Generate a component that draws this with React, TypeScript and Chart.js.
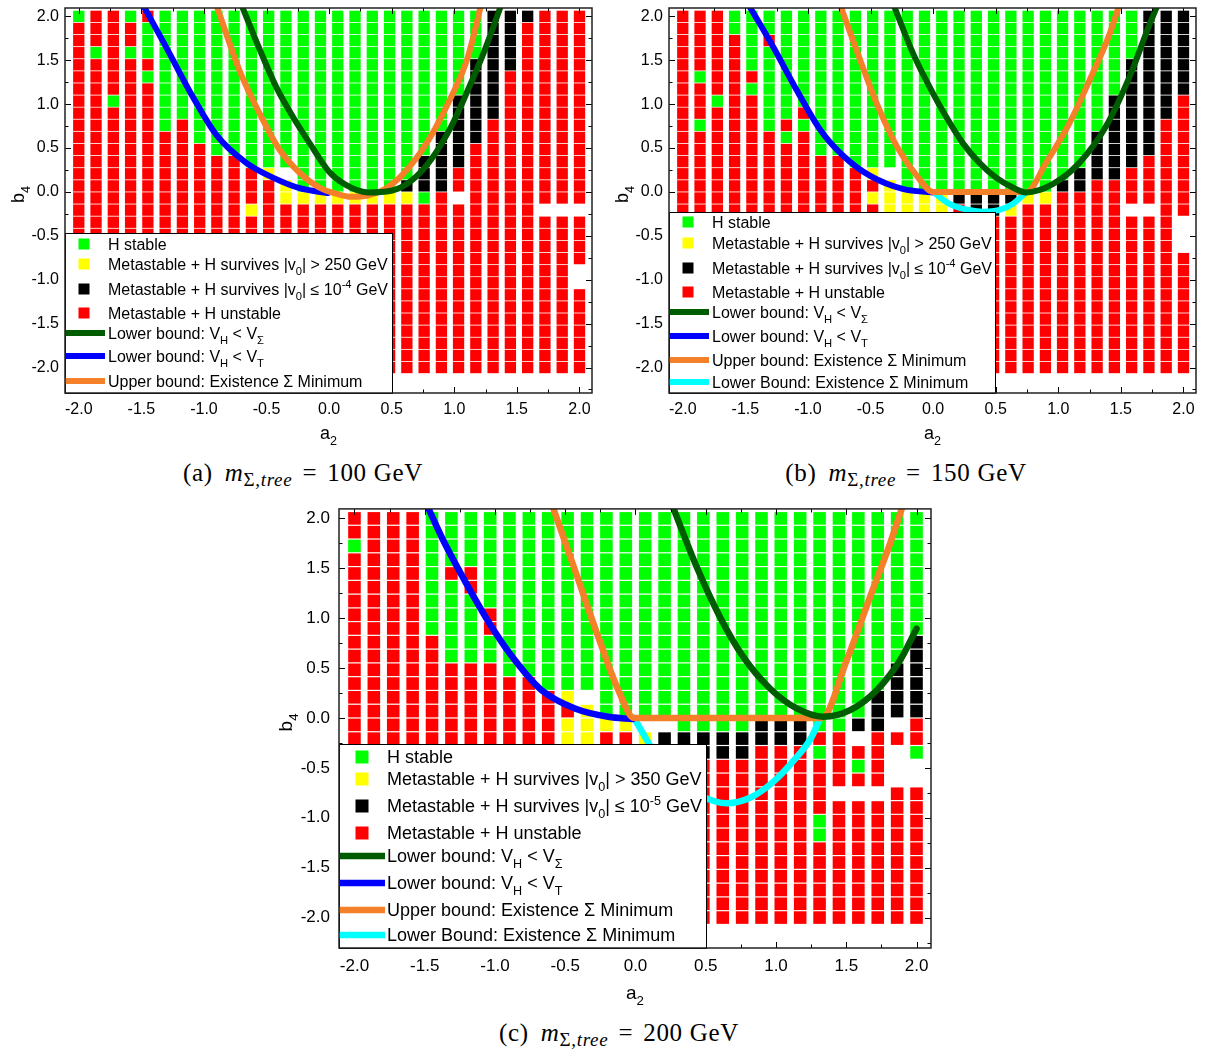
import React, { useEffect, useRef } from "react";
import { Chart, registerables } from "chart.js";
Chart.register(...registerables);

type Seg = { t: string; s?: "sub" | "sup" };
type Pt = [number, number];

// ---------------- data ----------------
// grid of a2 values (columns, left -> right)
const A2_GRID = [-2.0, -1.862, -1.724, -1.586, -1.448, -1.31, -1.172, -1.034, -0.897, -0.759, -0.621, -0.483, -0.345, -0.207, -0.069,
  0.069, 0.207, 0.345, 0.483, 0.621, 0.759, 0.897, 1.034, 1.172, 1.31, 1.448, 1.586, 1.724, 1.862, 2.0];
// grid of b4 values (rows, top -> bottom)
const B4_GRID = [2.0, 1.862, 1.724, 1.586, 1.448, 1.31, 1.172, 1.034, 0.897, 0.759, 0.621, 0.483, 0.345, 0.207, 0.069,
  -0.069, -0.207, -0.345, -0.483, -0.621, -0.759, -0.897, -1.034, -1.172, -1.31, -1.448, -1.586, -1.724, -1.862, -2.0];

// category codes: G = H stable, Y = metastable survives (large v0), K = metastable survives (small v0), R = unstable, . = no point
const CATEGORY_CODES = ["G", "Y", "K", "R"];
const CATEGORY_COLORS = ["#00ff00", "#ffff00", "#000000", "#ff0000"];

// each entry = one a2 column, runs of categories from b4 = 2 (top) down to b4 = -2
const CELLS_A = [
  "G1R29", "R3G1R26", "R7G1R22", "G1R2G1R26", "R1G3R1G1R24", "G10R20", "G9R21", "G11R19", "G12R18", "G12R18",
  "G13R3Y1R13", "G13Y1R16", "G13.1Y2R14", "G15Y1R14", "G15Y1R14", "G15Y1R14", "G15Y1R14", "G15Y1R14", "G15Y1R14", "G14K1Y1R14",
  "G12K3G1R14", "G10K5R15", "G7K6R2.1R14", "G4K7R19", "K9R21", "K5R25", "K1R29", "R16.1R13", "R16.1R13", "R16.1R4.2R7",
];
const CELLS_B = [
  "R30", "R5G1R3G1R20", "R7G1R22", "G2R28", "G5R1G1R23", "G2R1G7R20", "G9R1G1R19", "G8R1G1R20", "G12R18", "G12R18",
  "G13R17", "G13Y1R1Y1R14", "G13.1Y3R13", "G15Y2R13", "G15Y2R13", "G15Y2R13", "G15K1R14", "G15K2R13", "G15K2R13", "G15K1Y1R13",
  "G15Y1R14", "G15Y1R14", "G14K1R15", "G13K2R15", "G10K4R16", "G7K7R16", "G4K9R3.1R13", "K12R4.1R13", "K9R21", "K7R10.3R10",
];
const CELLS_C = [
  "R2G1R27", "R30", "R30", "R30", "G9R21", "G4R1G6R19", "G4R2G5R19", "G7R2G2R19", "G12R18", "G12R18",
  "G13R17", "G13Y1R1Y2R13", "G13.1Y3R13", "G15Y1R14", "G15Y1R14", "G15.1Y1R13", "G15.1K1R13", "G16K1R13", "G16K2R12", "G16K2R12",
  "G16K2R12", "G15K2R13", "G15K2R13", "G15K2R13", "G16R1G1R4G2R6", "G16R4.1R9", "G15K1.1R1G1R1.1R9", "G13K3R4.1R9", "G11K4.1R1.3R10", "G9K6R2G1.2R10",
];

// curves [a2, b4]
const CURVE_A_SIGMA: Pt[] = [[-0.70, 2.13], [-0.555, 1.624], [-0.422, 1.193], [-0.29, 0.856], [-0.156, 0.556], [0.0, 0.23], [0.123, 0.088],
  [0.309, -0.006], [0.496, 0.013], [0.655, 0.126], [0.815, 0.37], [0.975, 0.744], [1.107, 1.155], [1.24, 1.604], [1.375, 2.13]];
const CURVE_A_T: Pt[] = [[-1.487, 2.13], [-1.30, 1.643], [-1.088, 1.081], [-0.901, 0.65], [-0.662, 0.331], [-0.449, 0.163], [-0.236, 0.043], [-0.01, -0.013]];
const CURVE_A_UPPER: Pt[] = [[-0.901, 2.13], [-0.715, 1.38], [-0.555, 0.893], [-0.396, 0.481], [-0.236, 0.219], [-0.077, 0.05], [0.07, -0.025],
  [0.176, -0.055], [0.309, -0.04], [0.442, 0.031], [0.575, 0.181], [0.708, 0.406], [0.841, 0.706], [0.975, 1.081], [1.107, 1.53], [1.214, 2.13]];

const CURVE_B_SIGMA: Pt[] = [[-0.316, 2.13], [-0.157, 1.567], [0.0, 1.12], [0.104, 0.856], [0.237, 0.556], [0.37, 0.331], [0.503, 0.163], [0.636, 0.05],
  [0.743, -0.006], [0.955, 0.088], [1.168, 0.331], [1.38, 0.744], [1.567, 1.305], [1.727, 1.9], [1.793, 2.13]];
const CURVE_B_T: Pt[] = [[-1.474, 2.13], [-1.274, 1.643], [-1.088, 1.155], [-0.901, 0.706], [-0.715, 0.407], [-0.502, 0.182], [-0.237, 0.031], [-0.011, -0.005]];
const CURVE_B_UPPER: Pt[] = [[-0.742, 2.13], [-0.609, 1.604], [-0.45, 1.006], [-0.29, 0.519], [-0.13, 0.182], [0.0, 0.0], [0.37, 0.0], [0.745, 0.0],
  [0.902, 0.331], [1.088, 0.781], [1.248, 1.267], [1.408, 1.792], [1.487, 2.13]];
const CURVE_B_LOWER: Pt[] = [[0.0, 0.0], [0.13, -0.137], [0.264, -0.2], [0.396, -0.225], [0.53, -0.205], [0.636, -0.137], [0.745, 0.0]];

const CURVE_C_SIGMA: Pt[] = [[0.258, 2.145], [0.436, 1.512], [0.601, 1.012], [0.767, 0.612], [0.957, 0.295], [1.147, 0.095], [1.337, 0.012],
  [1.527, 0.078], [1.717, 0.278], [1.883, 0.578], [2.0, 0.895]];
const CURVE_C_T: Pt[] = [[-1.49, 2.15], [-1.356, 1.745], [-1.19, 1.312], [-1.023, 0.912], [-0.858, 0.578], [-0.668, 0.278], [-0.431, 0.095], [-0.194, 0.012], [-0.02, -0.01]];
const CURVE_C_UPPER: Pt[] = [[-0.596, 2.145], [-0.43, 1.478], [-0.265, 0.812], [-0.122, 0.278], [-0.01, 0.0], [0.66, 0.0], [1.325, 0.0],
  [1.503, 0.578], [1.669, 1.212], [1.811, 1.745], [1.906, 2.145]];
const CURVE_C_LOWER: Pt[] = [[-0.01, 0.0], [0.068, -0.19], [0.14, -0.36], [0.3, -0.62], [0.459, -0.775], [0.649, -0.855], [0.815, -0.8],
  [0.98, -0.64], [1.13, -0.42], [1.25, -0.2], [1.313, 0.0]];

const X_TICKS = [-2, -1.5, -1, -0.5, 0, 0.5, 1, 1.5, 2];
const X_MINOR = [-1.75, -1.25, -0.75, -0.25, 0.25, 0.75, 1.25, 1.75];
const Y_TICKS = [-2, -1.5, -1, -0.5, 0, 0.5, 1, 1.5, 2];
const Y_MINOR = [-2.25, -1.75, -1.25, -0.75, -0.25, 0.25, 0.75, 1.25, 1.75];

const LEG_STABLE: Seg[] = [{ t: "H stable" }];
const LEG_META_250: Seg[] = [{ t: "Metastable + H survives |v" }, { t: "0", s: "sub" }, { t: "| > 250 GeV" }];
const LEG_META_350: Seg[] = [{ t: "Metastable + H survives |v" }, { t: "0", s: "sub" }, { t: "| > 350 GeV" }];
const LEG_META_E4: Seg[] = [{ t: "Metastable + H survives |v" }, { t: "0", s: "sub" }, { t: "| \u2264 10" }, { t: "-4", s: "sup" }, { t: " GeV" }];
const LEG_META_E5: Seg[] = [{ t: "Metastable + H survives |v" }, { t: "0", s: "sub" }, { t: "| \u2264 10" }, { t: "-5", s: "sup" }, { t: " GeV" }];
const LEG_UNSTABLE: Seg[] = [{ t: "Metastable + H unstable" }];
const LEG_LOWER_SIGMA: Seg[] = [{ t: "Lower bound: V" }, { t: "H", s: "sub" }, { t: " < V" }, { t: "\u03A3", s: "sub" }];
const LEG_LOWER_T: Seg[] = [{ t: "Lower bound: V" }, { t: "H", s: "sub" }, { t: " < V" }, { t: "T", s: "sub" }];
const LEG_UPPER: Seg[] = [{ t: "Upper bound: Existence \u03A3 Minimum" }];
const LEG_LOWER_EXIST: Seg[] = [{ t: "Lower Bound: Existence \u03A3 Minimum" }];

const LEGEND_A = [LEG_STABLE, LEG_META_250, LEG_META_E4, LEG_UNSTABLE, LEG_LOWER_SIGMA, LEG_LOWER_T, LEG_UPPER];
const LEGEND_B = [LEG_STABLE, LEG_META_250, LEG_META_E4, LEG_UNSTABLE, LEG_LOWER_SIGMA, LEG_LOWER_T, LEG_UPPER, LEG_LOWER_EXIST];
const LEGEND_C = [LEG_STABLE, LEG_META_350, LEG_META_E5, LEG_UNSTABLE, LEG_LOWER_SIGMA, LEG_LOWER_T, LEG_UPPER, LEG_LOWER_EXIST];

const CAPTION_LETTERS = ["a", "b", "c"];
const CAPTION_MASSES = ["100", "150", "200"];

const X_TITLE: Seg[] = [{ t: "a" }, { t: "2", s: "sub" }];
const Y_TITLE: Seg[] = [{ t: "b" }, { t: "4", s: "sub" }];

// ---------------- styling ----------------
const FONT = "'Liberation Sans', Arial, Helvetica, sans-serif";
const DARK_GREEN = "#005c00";
const BLUE = "#0000ff";
const ORANGE = "#f5802a";
const CYAN = "#00ffff";

function decodeColumn(rle: string): string[] {
  const out: string[] = [];
  const re = /([GYKR.])(\d+)/g;
  let m: RegExpExecArray | null;
  while ((m = re.exec(rle))) for (let k = 0; k < +m[2]; k++) out.push(m[1]);
  return out;
}

function drawRich(ctx: CanvasRenderingContext2D, segs: Seg[], x: number, y: number, size: number, align: "left" | "center") {
  const widths = segs.map((sg) => {
    ctx.font = `${sg.s ? size * 0.7 : size}px ${FONT}`;
    return ctx.measureText(sg.t).width;
  });
  const total = widths.reduce((a, b) => a + b, 0);
  let cx = align === "center" ? x - total / 2 : x;
  ctx.textAlign = "left";
  ctx.textBaseline = "alphabetic";
  ctx.fillStyle = "#000";
  const base = y + size * 0.36;
  segs.forEach((sg, i) => {
    ctx.font = `${sg.s ? size * 0.7 : size}px ${FONT}`;
    const dy = sg.s === "sub" ? size * 0.3 : sg.s === "sup" ? -size * 0.42 : 0;
    ctx.fillText(sg.t, cx, base + dy);
    cx += widths[i];
  });
}

type Curve = { pts: Pt[]; color: string; order: number };
type PanelCfg = {
  left: number; top: number; width: number; height: number;
  yAxisW: number; padTop: number; padRight: number; xAxisH: number;
  xMin: number; xMax: number; yMin: number; yMax: number;
  pointR: number; lineW: number;
  tickFont: number; xTickPad: number; yTickPad: number;
  titleFont: number; xTitleOff: number; yTitleX: number;
  cells: string[]; curves: Curve[]; legendLabels: Seg[][];
  legend: { w: number; h: number; rows: number[]; markerX: number; textX: number; lineLen: number; sq: number; font: number };
};

const PANEL_A: PanelCfg = {
  left: 0, top: 0, width: 600, height: 455,
  yAxisW: 65, padTop: 3, padRight: 7, xAxisH: 62,
  xMin: -2.11, xMax: 2.1, yMin: -2.29, yMax: 2.095,
  pointR: 8.0, lineW: 6,
  tickFont: 16, xTickPad: 7, yTickPad: 6,
  titleFont: 18, xTitleOff: 40, yTitleX: 18,
  cells: CELLS_A,
  curves: [
    { pts: CURVE_A_SIGMA, color: DARK_GREEN, order: 1 },
    { pts: CURVE_A_T, color: BLUE, order: 3 },
    { pts: CURVE_A_UPPER, color: ORANGE, order: 2 },
  ],
  legendLabels: LEGEND_A,
  legend: { w: 327, h: 160, rows: [11, 31, 56, 80, 100, 123, 148], markerX: 19, textX: 43, lineLen: 40, sq: 11, font: 16 },
};

const PANEL_B: PanelCfg = {
  ...PANEL_A,
  left: 604,
  cells: CELLS_B,
  curves: [
    { pts: CURVE_B_SIGMA, color: DARK_GREEN, order: 1 },
    { pts: CURVE_B_T, color: BLUE, order: 3 },
    { pts: CURVE_B_UPPER, color: ORANGE, order: 2 },
    { pts: CURVE_B_LOWER, color: CYAN, order: 4 },
  ],
  legendLabels: LEGEND_B,
  legend: { w: 326, h: 181, rows: [10, 31, 56, 80, 100, 124, 148, 170], markerX: 19, textX: 43, lineLen: 40, sq: 11, font: 16 },
};

const PANEL_C: PanelCfg = {
  left: 260, top: 500, width: 680, height: 510,
  yAxisW: 79, padTop: 8, padRight: 9, xAxisH: 62,
  xMin: -2.11, xMax: 2.103, yMin: -2.305, yMax: 2.095,
  pointR: 8.9, lineW: 6.5,
  tickFont: 17, xTickPad: 8, yTickPad: 9,
  titleFont: 19, xTitleOff: 44, yTitleX: 25,
  cells: CELLS_C,
  curves: [
    { pts: CURVE_C_SIGMA, color: DARK_GREEN, order: 1 },
    { pts: CURVE_C_T, color: BLUE, order: 3 },
    { pts: CURVE_C_UPPER, color: ORANGE, order: 2 },
    { pts: CURVE_C_LOWER, color: CYAN, order: 4 },
  ],
  legendLabels: LEGEND_C,
  legend: { w: 367, h: 204, rows: [13, 35, 62, 89, 112, 139, 166, 191], markerX: 23, textX: 48, lineLen: 46, sq: 13, font: 18 },
};

function makeDecor(cfg: PanelCfg) {
  return {
    id: "decor",
    afterDraw(chart: any) {
      const { ctx, chartArea: ca, scales } = chart;
      const xs = scales.x, ys = scales.y;
      ctx.save();
      // inward ticks on all four sides
      ctx.strokeStyle = "#000";
      ctx.lineWidth = 1;
      const major = 6, minor = 3.5;
      ctx.beginPath();
      const xt = (vals: number[], len: number) => vals.forEach((v) => {
        const p = Math.round(xs.getPixelForValue(v)) + 0.5;
        ctx.moveTo(p, ca.bottom); ctx.lineTo(p, ca.bottom - len);
        ctx.moveTo(p, ca.top); ctx.lineTo(p, ca.top + len);
      });
      const yt = (vals: number[], len: number) => vals.forEach((v) => {
        const p = Math.round(ys.getPixelForValue(v)) + 0.5;
        ctx.moveTo(ca.left, p); ctx.lineTo(ca.left + len, p);
        ctx.moveTo(ca.right, p); ctx.lineTo(ca.right - len, p);
      });
      xt(X_TICKS, major); xt(X_MINOR, minor); yt(Y_TICKS, major); yt(Y_MINOR, minor);
      ctx.stroke();

      // legend box
      const L = cfg.legend;
      const lx = ca.left, ly = ca.bottom - L.h;
      ctx.fillStyle = "#fff";
      ctx.fillRect(lx, ly, L.w, L.h);
      ctx.strokeStyle = "#000";
      ctx.lineWidth = 1;
      ctx.strokeRect(lx + 0.5, ly + 0.5, L.w, L.h);
      cfg.legendLabels.forEach((segs, i) => {
        const cy = ly + L.rows[i];
        if (i < 4) {
          ctx.fillStyle = CATEGORY_COLORS[i];
          ctx.fillRect(lx + L.markerX - L.sq / 2, cy - L.sq / 2, L.sq, L.sq);
        } else {
          const c = cfg.curves[i - 4];
          ctx.strokeStyle = c.color;
          ctx.lineWidth = cfg.lineW;
          ctx.lineCap = "butt";
          ctx.beginPath();
          ctx.moveTo(lx, cy);
          ctx.lineTo(lx + L.lineLen, cy);
          ctx.stroke();
        }
        drawRich(ctx, segs, lx + L.textX, cy, L.font, "left");
      });

      // frame
      ctx.strokeStyle = "#222";
      ctx.lineWidth = 1.5;
      ctx.strokeRect(ca.left, ca.top, ca.right - ca.left, ca.bottom - ca.top);

      // axis titles
      drawRich(ctx, X_TITLE, (ca.left + ca.right) / 2, ca.bottom + cfg.xTitleOff, cfg.titleFont, "center");
      ctx.translate(cfg.yTitleX, (ca.top + ca.bottom) / 2 - 6);
      ctx.rotate(-Math.PI / 2);
      drawRich(ctx, Y_TITLE, 0, 0, cfg.titleFont, "center");
      ctx.restore();
    },
  };
}

function buildConfig(cfg: PanelCfg): any {
  const cellSets = CATEGORY_CODES.map((code, ci) => {
    const data: { x: number; y: number }[] = [];
    cfg.cells.forEach((col, i) => {
      decodeColumn(col).forEach((c, j) => {
        if (c === code) data.push({ x: A2_GRID[i], y: B4_GRID[j] });
      });
    });
    return {
      label: code,
      data,
      showLine: false,
      pointStyle: "rect",
      pointRadius: cfg.pointR,
      pointHoverRadius: cfg.pointR,
      pointHitRadius: 0,
      pointBorderWidth: 0,
      borderWidth: 0,
      backgroundColor: CATEGORY_COLORS[ci],
      pointBackgroundColor: CATEGORY_COLORS[ci],
      order: 10,
    };
  });
  const curveSets = cfg.curves.map((c) => ({
    data: c.pts.map(([x, y]) => ({ x, y })),
    showLine: true,
    borderColor: c.color,
    backgroundColor: c.color,
    borderWidth: cfg.lineW,
    pointRadius: 0,
    pointHoverRadius: 0,
    pointHitRadius: 0,
    cubicInterpolationMode: "monotone",
    borderCapStyle: "round",
    borderJoinStyle: "round",
    clip: 0,
    order: c.order,
  }));
  const tickFont = { family: FONT, size: cfg.tickFont };
  return {
    type: "scatter",
    data: { datasets: [...curveSets, ...cellSets] },
    options: {
      animation: false,
      responsive: false,
      devicePixelRatio: 1,
      events: [],
      layout: { padding: { left: 0, top: cfg.padTop, right: cfg.padRight, bottom: 0 } },
      plugins: { legend: { display: false }, tooltip: { enabled: false } },
      scales: {
        x: {
          type: "linear",
          min: cfg.xMin,
          max: cfg.xMax,
          afterBuildTicks: (s: any) => { s.ticks = X_TICKS.map((v) => ({ value: v })); },
          afterFit: (s: any) => { s.height = cfg.xAxisH; s.paddingLeft = 0; s.paddingRight = 0; },
          grid: { display: false, drawTicks: false },
          border: { display: false },
          ticks: { font: tickFont, color: "#000", padding: cfg.xTickPad, maxRotation: 0, autoSkip: false, callback: (v: any) => Number(v).toFixed(1) },
        },
        y: {
          type: "linear",
          min: cfg.yMin,
          max: cfg.yMax,
          afterBuildTicks: (s: any) => { s.ticks = Y_TICKS.map((v) => ({ value: v })); },
          afterFit: (s: any) => { s.width = cfg.yAxisW; s.paddingTop = 0; s.paddingBottom = 0; },
          grid: { display: false, drawTicks: false },
          border: { display: false },
          ticks: { font: tickFont, color: "#000", padding: cfg.yTickPad, autoSkip: false, callback: (v: any) => Number(v).toFixed(1) },
        },
      },
    },
    plugins: [makeDecor(cfg)],
  };
}

function Panel({ cfg }: { cfg: PanelCfg }) {
  const ref = useRef<HTMLCanvasElement>(null);
  useEffect(() => {
    const chart = new Chart(ref.current as HTMLCanvasElement, buildConfig(cfg));
    return () => chart.destroy();
  }, [cfg]);
  return (
    <canvas
      ref={ref}
      width={cfg.width}
      height={cfg.height}
      style={{ position: "absolute", left: cfg.left, top: cfg.top, width: cfg.width, height: cfg.height }}
    />
  );
}

function Caption({ idx, cx, cy }: { idx: number; cx: number; cy: number }) {
  return (
    <div
      style={{
        position: "absolute", left: cx - 220, top: cy - 15, width: 440, textAlign: "center",
        fontFamily: "'Liberation Serif', 'DejaVu Serif', serif", fontSize: 25, lineHeight: "30px", color: "#000",
        whiteSpace: "nowrap", letterSpacing: "0.7px",
      }}
    >
      ({CAPTION_LETTERS[idx]})
      <span style={{ marginLeft: 12 }}><i>m</i></span>
      <span style={{ fontSize: 19, position: "relative", top: 5 }}>{"\u03A3"}<i>,tree</i></span>
      <span style={{ margin: "0 10px" }}>=</span>
      {CAPTION_MASSES[idx]}
      <span style={{ marginLeft: 7 }}>GeV</span>
    </div>
  );
}

export default function App() {
  return (
    <div style={{ position: "absolute", left: 0, top: 0, width: 1216, height: 1053, background: "#fff", overflow: "hidden" }}>
      <Panel cfg={PANEL_A} />
      <Panel cfg={PANEL_B} />
      <Panel cfg={PANEL_C} />
      <Caption idx={0} cx={303} cy={473} />
      <Caption idx={1} cx={906} cy={473} />
      <Caption idx={2} cx={619} cy={1033} />
    </div>
  );
}
